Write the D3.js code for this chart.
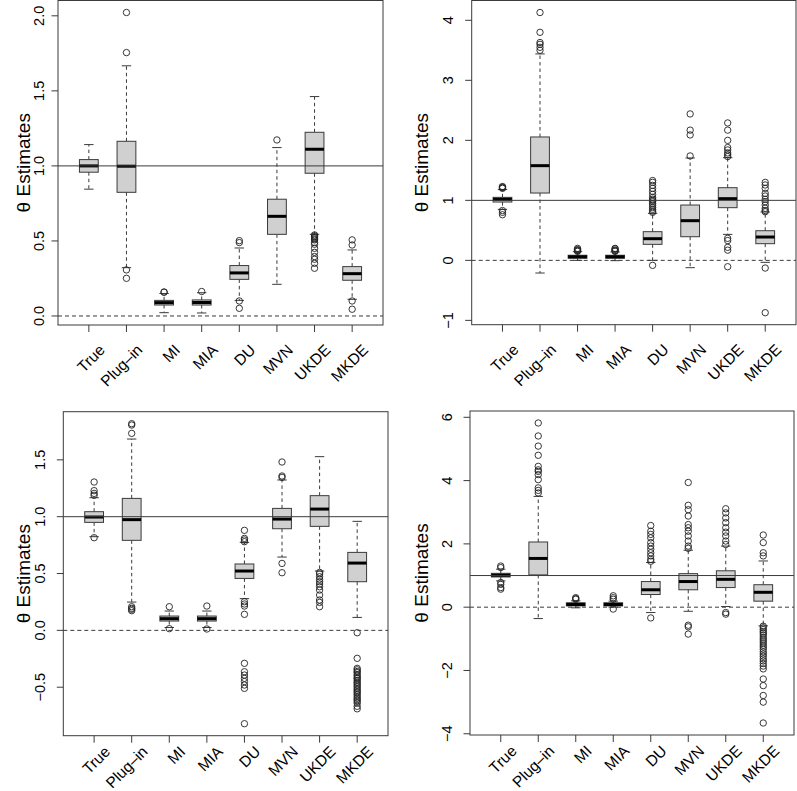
<!DOCTYPE html>
<html>
<head>
<meta charset="utf-8">
<script src="https://cdn.jsdelivr.net/npm/d3@7"></script>
<style>
  html, body { margin: 0; padding: 0; background: #fff; }
  svg { display: block; }
  text { font-family: "Liberation Sans", Arial, Helvetica, sans-serif; fill: #000; }
</style>
</head>
<body>
<svg id="chart" width="797" height="791"></svg>
<script>
// ---------------- data ----------------
const categories = ["True", "Plug–in", "MI", "MIA", "DU", "MVN", "UKDE", "MKDE"];

// five-number summaries per method: [lower whisker, Q1, median, Q3, upper whisker]
const p1Stats = [
  [0.845, 0.958, 1.000, 1.042, 1.142],
  [0.322, 0.824, 0.998, 1.164, 1.667],
  [0.022, 0.073, 0.089, 0.104, 0.150],
  [0.020, 0.073, 0.090, 0.107, 0.155],
  [0.104, 0.244, 0.287, 0.336, 0.453],
  [0.211, 0.544, 0.664, 0.778, 1.122],
  [0.544, 0.951, 1.111, 1.224, 1.462],
  [0.111, 0.238, 0.282, 0.329, 0.440]
];
const p1Outliers = [
  [],
  [2.022, 1.755, 0.307, 0.251],
  [0.160, 0.158],
  [0.163],
  [0.502, 0.489, 0.100, 0.051],
  [1.173],
  [0.540, 0.533, 0.527, 0.520, 0.513, 0.507, 0.490, 0.478, 0.451, 0.424, 0.396, 0.378, 0.351, 0.318],
  [0.507, 0.473, 0.100, 0.045]
];

const p2Stats = [
  [0.850, 0.972, 1.017, 1.050, 1.180],
  [-0.211, 1.122, 1.578, 2.056, 3.440],
  [0.000, 0.035, 0.060, 0.085, 0.145],
  [-0.005, 0.035, 0.060, 0.085, 0.140],
  [0.000, 0.267, 0.361, 0.478, 0.783],
  [-0.122, 0.394, 0.661, 0.922, 1.706],
  [0.433, 0.878, 1.028, 1.211, 1.711],
  [-0.033, 0.278, 0.389, 0.494, 0.806]
];
const p2Outliers = [
  [1.23, 1.22, 1.21, 1.20, 0.83, 0.80, 0.76],
  [4.13, 3.80, 3.63, 3.60, 3.55, 3.50],
  [0.15, 0.16, 0.17, 0.18, 0.20],
  [0.15, 0.16, 0.17, 0.19, 0.20],
  [1.33, 1.30, 1.25, 1.20, 1.15, 1.10, 1.05, 1.02, 1.00, 0.98, 0.95, 0.92, 0.88, 0.85, 0.82, 0.80, -0.083],
  [2.44, 2.17, 2.09, 1.74],
  [2.29, 2.17, 2.00, 1.88, 1.84, 1.79, 1.76, 1.73, 0.367, 0.33, 0.217, 0.17, -0.106],
  [1.30, 1.256, 1.20, 1.117, 1.072, 1.017, 0.978, 0.922, 0.867, 0.83, 0.81, -0.128, -0.872]
];

const p3Stats = [
  [0.824, 0.950, 0.997, 1.044, 1.167],
  [0.249, 0.792, 0.974, 1.161, 1.683],
  [0.025, 0.082, 0.103, 0.126, 0.170],
  [0.025, 0.082, 0.103, 0.126, 0.170],
  [0.279, 0.457, 0.522, 0.584, 0.774],
  [0.645, 0.894, 0.979, 1.073, 1.323],
  [0.522, 0.915, 1.067, 1.185, 1.528],
  [0.114, 0.428, 0.592, 0.686, 0.959]
];
const p3Outliers = [
  [1.305, 1.229, 1.205, 1.188, 0.815],
  [1.818, 1.806, 1.733, 0.208, 0.194, 0.185, 0.173],
  [0.208, 0.015],
  [0.214, 0.012],
  [0.880, 0.809, 0.795, 0.780, 0.252, 0.232, 0.214, 0.141, -0.290, -0.364, -0.393, -0.422, -0.450, -0.481, -0.510, -0.821],
  [1.481, 1.358, 1.346, 0.589, 0.507],
  [0.510, 0.496, 0.472, 0.449, 0.428, 0.408, 0.384, 0.355, 0.311, 0.267, 0.246, 0.208],
  [-0.021, -0.246, -0.334, -0.347, -0.362, -0.371, -0.389, -0.402, -0.418, -0.425, -0.441, -0.456, -0.468, -0.483, -0.497, -0.512, -0.526, -0.539, -0.551, -0.566, -0.582, -0.598, -0.610, -0.625, -0.640, -0.668, -0.690]
];

const p4Stats = [
  [0.83, 0.955, 1.01, 1.07, 1.20],
  [-0.36, 1.02, 1.54, 2.06, 3.50],
  [-0.02, 0.04, 0.084, 0.14, 0.20],
  [0.00, 0.04, 0.084, 0.14, 0.19],
  [-0.17, 0.40, 0.55, 0.81, 1.41],
  [-0.13, 0.55, 0.81, 1.06, 1.80],
  [0.02, 0.62, 0.88, 1.15, 1.93],
  [-0.59, 0.19, 0.47, 0.71, 1.46]
];
const p4Outliers = [
  [1.30, 1.25, 0.78, 0.72, 0.62, 0.57],
  [5.82, 5.41, 5.09, 4.80, 4.45, 4.34, 4.29, 4.19, 4.03, 3.77, 3.69, 3.61],
  [0.30, 0.27, 0.25],
  [0.36, 0.30, 0.25, -0.06],
  [2.58, 2.40, 2.30, 2.19, 2.04, 1.93, 1.83, 1.72, 1.62, 1.51, 1.45, -0.34],
  [3.94, 3.22, 3.08, 2.88, 2.61, 2.51, 2.40, 2.25, 2.09, 1.93, 1.86, -0.57, -0.62, -0.85],
  [3.11, 2.98, 2.82, 2.67, 2.51, 2.37, 2.25, 2.09, 1.98, -0.17, -0.22],
  [2.28, 2.04, 1.72, 1.62, -0.60, -0.65, -0.71, -0.77, -0.82, -0.88, -0.95, -1.01, -1.07, -1.13, -1.20, -1.26, -1.33, -1.41, -1.48, -1.55, -1.63, -1.70, -1.78, -1.86, -1.95, -2.27, -2.48, -2.79, -3.00, -3.66]
];

const p1Ticks = [0.0, 0.5, 1.0, 1.5, 2.0];
const p2Ticks = [-1, 0, 1, 2, 3, 4];
const p3Ticks = [-0.5, 0.0, 0.5, 1.0, 1.5];
const p4Ticks = [-4, -2, 0, 2, 4, 6];

const yLabel = "θ Estimates";
const trueValue = 1;

// ---------------- layout ----------------
const panels = [
  { stats: p1Stats, outs: p1Outliers, ticks: p1Ticks, dec: 1, left: 58, right: 383, top: 0.5, bottom: 325, tickLabX: 43.5, axLabX: 30, xLabDy: 26 },
  { stats: p2Stats, outs: p2Outliers, ticks: p2Ticks, dec: 0, left: 471.7, right: 796, top: 0.5, bottom: 324.7, tickLabX: 452.7, axLabX: 428, xLabDy: 26 },
  { stats: p3Stats, outs: p3Outliers, ticks: p3Ticks, dec: 1, left: 63.3, right: 388, top: 411.7, bottom: 735.7, tickLabX: 45, axLabX: 30, xLabDy: 17 },
  { stats: p4Stats, outs: p4Outliers, ticks: p4Ticks, dec: 0, left: 470, right: 794, top: 411, bottom: 735, tickLabX: 451.7, axLabX: 428, xLabDy: 17 }
];

const svg = d3.select("#chart");
const frameCol = "#3a3a3a";
const fmtNum = (v, dec) => {
  const s = v.toFixed(dec);
  return s.startsWith("-") ? "−" + s.slice(1) : s;
};

panels.forEach(p => {
  const all = p.stats.flat().concat(p.outs.flat());
  const lo = d3.min(all), hi = d3.max(all), r = hi - lo;
  const y = d3.scaleLinear().domain([lo - 0.04 * r, hi + 0.04 * r]).range([p.bottom, p.top]);
  const x = d3.scaleLinear().domain([0.18, categories.length + 0.82]).range([p.left, p.right]);
  const unit = x(2) - x(1);
  const bw = unit * 0.5;
  const sw = bw * 0.5;

  const g = svg.append("g");

  categories.forEach((c, i) => {
    const s = p.stats[i];
    const cx = x(i + 1);
    const bg = g.append("g");
    bg.append("line").attr("x1", cx).attr("x2", cx).attr("y1", y(s[3])).attr("y2", y(s[4]))
      .attr("stroke", frameCol).attr("stroke-width", 1).attr("stroke-dasharray", "3.5,3");
    bg.append("line").attr("x1", cx).attr("x2", cx).attr("y1", y(s[1])).attr("y2", y(s[0]))
      .attr("stroke", frameCol).attr("stroke-width", 1).attr("stroke-dasharray", "3.5,3");
    [s[0], s[4]].forEach(v => {
      bg.append("line").attr("x1", cx - sw / 2).attr("x2", cx + sw / 2).attr("y1", y(v)).attr("y2", y(v))
        .attr("stroke", frameCol).attr("stroke-width", 1);
    });
    bg.append("rect").attr("x", cx - bw / 2).attr("width", bw)
      .attr("y", y(s[3])).attr("height", Math.max(0.5, y(s[1]) - y(s[3])))
      .attr("fill", "#d0d0d0").attr("stroke", frameCol).attr("stroke-width", 1);
    bg.append("line").attr("x1", cx - bw / 2).attr("x2", cx + bw / 2).attr("y1", y(s[2])).attr("y2", y(s[2]))
      .attr("stroke", "#000").attr("stroke-width", 3);
    bg.selectAll("circle").data(p.outs[i]).join("circle")
      .attr("cx", cx).attr("cy", d => y(d)).attr("r", 3.2)
      .attr("fill", "none").attr("stroke", "#222").attr("stroke-width", 0.9);
  });

  g.append("line").attr("x1", p.left).attr("x2", p.right).attr("y1", y(trueValue)).attr("y2", y(trueValue))
    .attr("stroke", frameCol).attr("stroke-width", 1);
  g.append("line").attr("x1", p.left).attr("x2", p.right).attr("y1", y(0)).attr("y2", y(0))
    .attr("stroke", frameCol).attr("stroke-width", 1).attr("stroke-dasharray", "4,3");

  g.append("rect").attr("x", p.left).attr("y", p.top).attr("width", p.right - p.left).attr("height", p.bottom - p.top)
    .attr("fill", "none").attr("stroke", frameCol).attr("stroke-width", 1);

  p.ticks.forEach(t => {
    g.append("line").attr("x1", p.left - 6.5).attr("x2", p.left).attr("y1", y(t)).attr("y2", y(t))
      .attr("stroke", frameCol).attr("stroke-width", 1);
    g.append("text").attr("transform", `translate(${p.tickLabX},${y(t)}) rotate(-90)`)
      .attr("text-anchor", "middle").style("font-size", "14.5px").text(fmtNum(t, p.dec));
  });
  g.append("text").attr("transform", `translate(${p.axLabX},${(p.top + p.bottom) / 2}) rotate(-90)`)
    .attr("text-anchor", "middle").style("font-size", "19px").text(yLabel);

  categories.forEach((c, i) => {
    const cx = x(i + 1);
    g.append("line").attr("x1", cx).attr("x2", cx).attr("y1", p.bottom).attr("y2", p.bottom + 7)
      .attr("stroke", frameCol).attr("stroke-width", 1);
    g.append("text").attr("transform", `translate(${cx + 17},${p.bottom + p.xLabDy}) rotate(-45)`)
      .attr("text-anchor", "end").style("font-size", "15.5px").text(c);
  });
});
</script>
</body>
</html>
